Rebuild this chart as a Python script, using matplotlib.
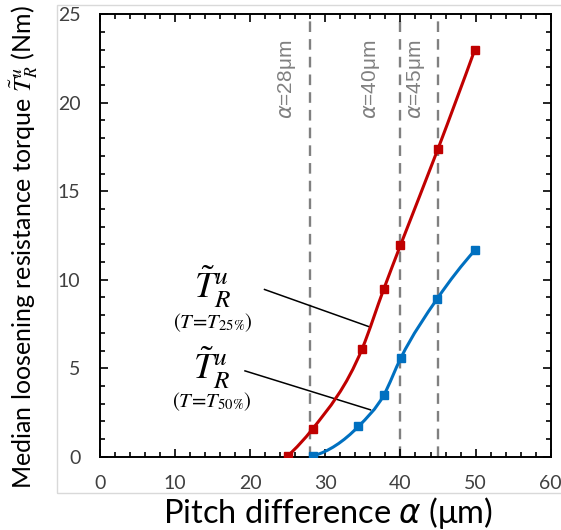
import numpy as np
import matplotlib.pyplot as plt
from matplotlib.path import Path
from matplotlib.patches import PathPatch, Rectangle
from matplotlib.ticker import MultipleLocator

plt.rcParams['mathtext.fontset'] = 'stix'

# pitch difference (um) vs median loosening resistance torque (Nm)
alpha_25 = [25.0, 28.3, 34.9, 37.8, 40.0, 45.0, 49.9]
torque_25 = [0.05, 1.57, 6.1, 9.5, 11.95, 17.4, 23.0]
alpha_50 = [28.4, 34.4, 37.8, 40.05, 44.9, 49.9]
torque_50 = [0.05, 1.71, 3.5, 5.58, 8.93, 11.66]

ref_alpha = [28, 40, 45]
ref_labels = [r'$\alpha$=28μm', r'$\alpha$=40μm', r'$\alpha$=45μm']
ref_label_x = [26.4, 37.5, 43.5]

red = '#C00000'
blue = '#0070C0'
sans = ['Lato', 'DejaVu Sans']


def smooth_path(xs, ys):
    # cubic Hermite through the points, written as Bezier segments
    x = np.asarray(xs, float)
    y = np.asarray(ys, float)
    h = np.diff(x)
    s = np.diff(y) / h
    m = np.empty_like(x)
    m[1:-1] = (h[:-1] * s[1:] + h[1:] * s[:-1]) / (h[:-1] + h[1:])
    m[0] = ((2 * h[0] + h[1]) * s[0] - h[0] * s[1]) / (h[0] + h[1])
    m[-1] = ((2 * h[-1] + h[-2]) * s[-1] - h[-1] * s[-2]) / (h[-1] + h[-2])
    verts = [(x[0], y[0])]
    codes = [Path.MOVETO]
    for i in range(len(x) - 1):
        d = h[i] / 3
        verts += [(x[i] + d, y[i] + d * m[i]), (x[i + 1] - d, y[i + 1] - d * m[i + 1]),
                  (x[i + 1], y[i + 1])]
        codes += [Path.CURVE4] * 3
    return Path(verts, codes)


fig = plt.figure(figsize=(5.61, 5.30), dpi=100)
fig.patches.append(Rectangle((0.1016, 0.0698), 1.0, 0.9208, transform=fig.transFigure,
                             fill=False, edgecolor='#d9d9d9', lw=1.0))
ax = fig.add_axes([0.1783, 0.1383, 0.8033, 0.8347])

for xv in ref_alpha:
    ax.axvline(xv, color='#808080', lw=1.7, ls=(0, (4.5, 3)), zorder=1)
for xv, lx, lab in zip(ref_alpha, ref_label_x, ref_labels):
    ax.text(lx, 23.55, lab, rotation=90, ha='right', va='top', color='#808080',
            fontsize=15, family=['Liberation Sans Narrow', 'Liberation Sans'],
            math_fontfamily='dejavusans')

for xs, ys, c in [(alpha_25, torque_25, red), (alpha_50, torque_50, blue)]:
    ax.add_patch(PathPatch(smooth_path(xs, ys), fill=False, edgecolor=c, lw=2.2, zorder=3))
    ax.plot(xs, ys, ls='none', marker='s', ms=6, color=c, zorder=4)

# callouts
ax.plot([21.9, 35.8], [9.45, 7.35], color='black', lw=1.1, zorder=2)
ax.plot([19.3, 36.0], [4.85, 2.65], color='black', lw=1.1, zorder=2)
ax.text(15.0, 9.6, r'$\tilde{T}_R^u$', fontsize=26, ha='center', va='center')
ax.text(15.0, 7.6, r'$(T\!=\!T_{25\%})$', fontsize=15, ha='center', va='center')
ax.text(14.85, 5.0, r'$\tilde{T}_R^u$', fontsize=26, ha='center', va='center')
ax.text(14.85, 3.1, r'$(T\!=\!T_{50\%})$', fontsize=15, ha='center', va='center')

ax.set_xlim(0, 60)
ax.set_ylim(0, 25)
ax.xaxis.set_major_locator(MultipleLocator(10))
ax.xaxis.set_minor_locator(MultipleLocator(2))
ax.yaxis.set_major_locator(MultipleLocator(5))
ax.yaxis.set_minor_locator(MultipleLocator(1))
ax.tick_params(which='both', direction='in', top=True, right=True, width=1.2)
ax.tick_params(which='major', length=6)
ax.tick_params(which='minor', length=3.5)
ax.tick_params(axis='x', pad=13, labelsize=14, labelcolor='#404040')
ax.tick_params(axis='y', pad=14, labelsize=14, labelcolor='#404040')
for lab in ax.get_xticklabels() + ax.get_yticklabels():
    lab.set_family(sans)
for s in ax.spines.values():
    s.set_linewidth(1.4)

ax.set_xlabel(r'Pitch difference $\alpha$ (μm)', fontsize=23.5, family=sans,
              math_fontfamily='dejavusans')
ax.xaxis.set_label_coords(0.507, -0.086)
ax.set_ylabel(r'Median loosening resistance torque $\tilde{T}_R^u$ (Nm)', fontsize=18,
              family=sans)
ax.yaxis.set_label_coords(-0.133, 0.474)

fig.savefig('out.png', dpi=100)
